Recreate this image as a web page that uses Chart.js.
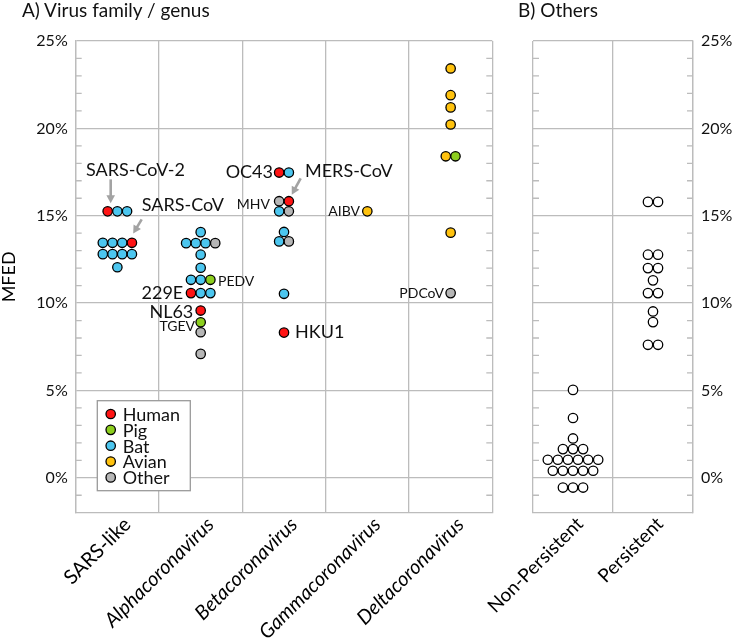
<!DOCTYPE html>
<html lang="en">
<head>
<meta charset="UTF-8">
<title>MFED by virus group</title>
<script src="https://cdn.jsdelivr.net/npm/chart.js"></script>
<style>
  body { margin: 0; background: #fff; }
  #wrap { position: relative; width: 733px; height: 641px; overflow: hidden; }
  canvas { position: absolute; top: 0; }
  .panel-title { position: absolute; top: 0; font-family: Lato, sans-serif; font-size: 19px; line-height: 20px; color: #111; }
</style>
</head>
<body>
<div id="wrap">
  <canvas id="chartA" width="500" height="641" style="left:0"></canvas>
  <canvas id="chartB" width="293" height="641" style="left:440px"></canvas>
  <div class="panel-title" style="left:22px">A) Virus family / genus</div>
  <div class="panel-title" style="left:518px">B) Others</div>
</div>
<script>
// ---- values (MFED, in %) ----
const familyLabels = ['SARS-like', 'Alphacoronavirus', 'Betacoronavirus', 'Gammacoronavirus', 'Deltacoronavirus'];
const otherLabels = ['Non-Persistent', 'Persistent'];
const hostNames = ['Human', 'Pig', 'Bat', 'Avian', 'Other'];
const yTicks = [0, 5, 10, 15, 20, 25];

// rows of equal values sit side by side, listed left to right
const sarsMfed  = [15.25, 15.25, 15.25, 13.45, 13.45, 13.45, 13.45, 12.8, 12.8, 12.8, 12.8, 12.05];
const sarsHost  = ['Human', 'Bat', 'Bat', 'Bat', 'Bat', 'Bat', 'Human', 'Bat', 'Bat', 'Bat', 'Bat', 'Bat'];
const alphaMfed = [14.06, 13.43, 13.43, 13.43, 13.43, 12.77, 12.02, 11.33, 11.33, 11.33, 10.57, 10.57, 10.57, 9.57, 8.9, 8.33, 7.09];
const alphaHost = ['Bat', 'Bat', 'Bat', 'Bat', 'Other', 'Bat', 'Bat', 'Bat', 'Bat', 'Pig', 'Human', 'Bat', 'Bat', 'Human', 'Pig', 'Other', 'Other'];
const betaMfed  = [17.47, 17.47, 15.83, 15.83, 15.25, 15.25, 14.07, 13.53, 13.53, 10.53, 8.31];
const betaHost  = ['Human', 'Bat', 'Other', 'Human', 'Bat', 'Other', 'Bat', 'Bat', 'Other', 'Bat', 'Human'];
const gammaMfed = [15.25];
const gammaHost = ['Avian'];
const deltaMfed = [23.43, 21.9, 21.2, 20.22, 18.4, 18.4, 14.03, 10.57];
const deltaHost = ['Avian', 'Avian', 'Avian', 'Avian', 'Avian', 'Pig', 'Avian', 'Other'];

const nonPersistentMfed = [5.03, 3.42, 2.25, 1.64, 1.64, 1.64, 1.03, 1.03, 1.03, 1.03, 1.03, 1.03,
                           0.4, 0.4, 0.4, 0.4, 0.4, -0.56, -0.56, -0.56];
const persistentMfed = [15.79, 15.79, 12.77, 12.77, 12.0, 12.0, 11.3, 10.57, 10.57, 9.52, 8.91, 7.61, 7.61];

// ---- styling ----
const hostColors = { Human: '#ff1414', Pig: '#8cce1e', Bat: '#4cc6ef', Avian: '#ffc20e', Other: '#b6b6b6' };
const GRID = '#bcbcbc';
const STEP_A = 0.1165;   // dot spacing, in category widths
const STEP_B = 0.126;

Chart.defaults.font.family = "Lato, 'Open Sans', sans-serif";
Chart.defaults.color = '#111';

function swarm(values, cat, step) {
  // equal values form a row centred on the category
  return values.map((v, i) => {
    let a = i, b = i;
    while (a > 0 && values[a - 1] === v) a--;
    while (b < values.length - 1 && values[b + 1] === v) b++;
    return { x: cat + (i - a - (b - a) / 2) * step, y: v };
  });
}

function categoryTicks(n) {
  const t = [];
  for (let i = 0; i <= n; i++) {
    t.push({ value: i - 0.5 });
    if (i < n) t.push({ value: i });
  }
  return t;
}

const overlay = {
  id: 'overlay',
  beforeDatasetsDraw(chart) {
    // short inside ticks every 1%
    const { ctx, chartArea: a, scales: { y } } = chart;
    ctx.save();
    ctx.strokeStyle = GRID;
    ctx.lineWidth = 1.3;
    for (let v = -1; v < 25; v++) {
      if (v % 5 === 0) continue;
      const py = y.getPixelForValue(v);
      ctx.beginPath();
      ctx.moveTo(a.left, py); ctx.lineTo(a.left + 6, py);
      ctx.moveTo(a.right - 6, py); ctx.lineTo(a.right, py);
      ctx.stroke();
    }
    ctx.restore();
  },
  afterDatasetsDraw(chart, args, o) {
    const { ctx, chartArea: a, scales: { x, y } } = chart;
    ctx.save();
    (o.arrows || []).forEach(ar => {
      const x1 = x.getPixelForValue(ar.x1), y1 = y.getPixelForValue(ar.y1);
      const x2 = x.getPixelForValue(ar.x2), y2 = y.getPixelForValue(ar.y2);
      const ang = Math.atan2(y2 - y1, x2 - x1), head = 9;
      ctx.strokeStyle = ctx.fillStyle = '#a3a3a3';
      ctx.lineWidth = 2.6;
      ctx.beginPath();
      ctx.moveTo(x1, y1);
      ctx.lineTo(x2 - Math.cos(ang) * head * 0.7, y2 - Math.sin(ang) * head * 0.7);
      ctx.stroke();
      ctx.beginPath();
      ctx.moveTo(x2, y2);
      ctx.lineTo(x2 - head * Math.cos(ang - 0.5), y2 - head * Math.sin(ang - 0.5));
      ctx.lineTo(x2 - head * Math.cos(ang + 0.5), y2 - head * Math.sin(ang + 0.5));
      ctx.closePath();
      ctx.fill();
    });
    ctx.fillStyle = '#111';
    ctx.textBaseline = 'middle';
    (o.notes || []).forEach(n => {
      ctx.font = n.size + 'px Lato';
      ctx.textAlign = n.align;
      ctx.fillText(n.text, x.getPixelForValue(n.x), y.getPixelForValue(n.y));
    });
    if (o.legend) {
      const L = o.legend, bx = a.left + L.left, by = a.bottom - L.bottom - L.height;
      ctx.fillStyle = '#fff';
      ctx.fillRect(bx, by, L.width, L.height);
      ctx.strokeStyle = '#9a9a9a';
      ctx.lineWidth = 1.3;
      ctx.strokeRect(bx, by, L.width, L.height);
      chart.data.datasets.forEach((ds, i) => {
        const cy = by + 13.3 + i * 15.85;
        ctx.beginPath();
        ctx.arc(bx + 13.4, cy, 4.7, 0, Math.PI * 2);
        ctx.fillStyle = ds.backgroundColor;
        ctx.fill();
        ctx.strokeStyle = '#000';
        ctx.stroke();
        ctx.fillStyle = '#111';
        ctx.font = '18px Lato';
        ctx.textAlign = 'left';
        ctx.fillText(ds.label, bx + 25.4, cy + 1);
      });
    }
    ctx.restore();
  }
};

function xAxis(labels, italicFrom, height, size, shift) {
  return {
    type: 'linear', min: -0.5, max: labels.length - 0.5,
    afterBuildTicks: s => { s.ticks = categoryTicks(labels.length); },
    afterFit: s => { s.height = height; s.paddingLeft = 0; s.paddingRight = 0; },
    ticks: {
      autoSkip: false, maxRotation: 45, minRotation: 45, padding: 0, labelOffset: shift, color: '#000',
      callback: v => Number.isInteger(v) ? labels[v] : '',
      font: c => ({ size: size, style: c.tick && c.tick.value >= italicFrom ? 'italic' : 'normal' })
    },
    grid: { color: c => c.tick && Number.isInteger(c.tick.value) ? 'rgba(0,0,0,0)' : GRID, lineWidth: 1.3, drawTicks: false },
    border: { color: GRID, width: 1.3 }
  };
}

function yAxis(position, width, withTitle) {
  return {
    type: 'linear', min: -2, max: 25, position: position,
    afterBuildTicks: s => { s.ticks = yTicks.map(v => ({ value: v })); },
    afterFit: s => { s.width = width; },
    ticks: { callback: v => v + '%', padding: 8, font: { size: 16 }, color: '#111' },
    grid: { color: GRID, lineWidth: 1.3, drawTicks: false },
    border: { color: GRID, width: 1.3 },
    title: { display: withTitle, text: 'MFED', color: '#000', font: { size: 18, lineHeight: 1 }, padding: 0 }
  };
}

const familyMfed = [sarsMfed, alphaMfed, betaMfed, gammaMfed, deltaMfed];
const familyHost = [sarsHost, alphaHost, betaHost, gammaHost, deltaHost];
const placedA = familyMfed.map((vals, c) => swarm(vals, c, STEP_A));

const datasetsA = hostNames.map(h => ({
  label: h,
  data: placedA.flatMap((pts, c) => pts.filter((p, i) => familyHost[c][i] === h)),
  backgroundColor: hostColors[h],
  borderColor: '#000',
  borderWidth: 1.3,
  pointRadius: 4.7
}));

new Chart(document.getElementById('chartA'), {
  type: 'scatter',
  data: { datasets: datasetsA },
  options: {
    responsive: false, animation: false, events: [],
    layout: { padding: { left: 0, top: 41, right: 7.7, bottom: 0 } },
    plugins: {
      legend: { display: false }, tooltip: { enabled: false },
      overlay: {
        notes: [
          { text: 'SARS-CoV-2', x: 0.218, y: 17.61, align: 'center', size: 18 },
          { text: 'SARS-CoV', x: 0.292, y: 15.61, align: 'left', size: 18 },
          { text: 'OC43', x: 1.868, y: 17.48, align: 'right', size: 18 },
          { text: 'MERS-CoV', x: 2.252, y: 17.52, align: 'left', size: 18 },
          { text: 'MHV', x: 1.832, y: 15.67, align: 'right', size: 14 },
          { text: 'AIBV', x: 2.912, y: 15.27, align: 'right', size: 14 },
          { text: 'PEDV', x: 1.208, y: 11.22, align: 'left', size: 14 },
          { text: '229E', x: 0.791, y: 10.56, align: 'right', size: 18 },
          { text: 'NL63', x: 0.911, y: 9.48, align: 'right', size: 18 },
          { text: 'TGEV', x: 0.932, y: 8.64, align: 'right', size: 14 },
          { text: 'HKU1', x: 2.132, y: 8.36, align: 'left', size: 18 },
          { text: 'PDCoV', x: 3.92, y: 10.56, align: 'right', size: 14 }
        ],
        arrows: [
          { x1: -0.08, y1: 17.08, x2: -0.08, y2: 15.72 },
          { x1: 0.292, y1: 14.79, x2: 0.19, y2: 13.98 },
          { x1: 2.2, y1: 17.14, x2: 2.093, y2: 16.2 }
        ],
        legend: { left: 21.6, bottom: 22, width: 93, height: 90 }
      }
    },
    scales: { x: xAxis(familyLabels, 1, 128.3, 20, 10), y: yAxis('left', 75.7, true) }
  },
  plugins: [overlay]
});

new Chart(document.getElementById('chartB'), {
  type: 'scatter',
  data: {
    datasets: [{
      label: 'Others',
      data: swarm(nonPersistentMfed, 0, STEP_B).concat(swarm(persistentMfed, 1, STEP_B)),
      backgroundColor: '#fff',
      borderColor: '#000',
      borderWidth: 1.3,
      pointRadius: 4.7
    }]
  },
  options: {
    responsive: false, animation: false, events: [],
    layout: { padding: { left: 93, top: 41, right: 0, bottom: 0 } },
    plugins: { legend: { display: false }, tooltip: { enabled: false }, overlay: {} },
    scales: { x: xAxis(otherLabels, 99, 128.3, 19, 7), y: yAxis('right', 40, false) }
  },
  plugins: [overlay]
});
</script>
</body>
</html>
